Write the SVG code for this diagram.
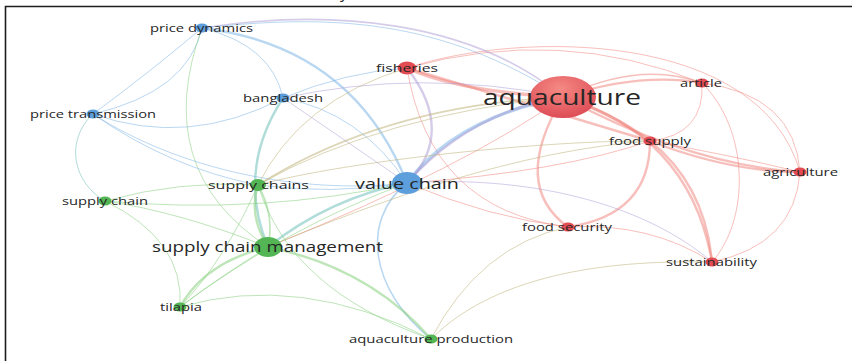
<svg xmlns="http://www.w3.org/2000/svg" width="852" height="361" viewBox="0 0 852 361">
  <defs>
    <style>
      .e { fill: none; stroke-linecap: round; }
      .r { stroke: #f08078; stroke-opacity: 0.5; }
      .b { stroke: #7fb6e6; stroke-opacity: 0.55; }
      .g { stroke: #86d07e; stroke-opacity: 0.55; }
      .o { stroke: #c0b27a; stroke-opacity: 0.55; }
      .p { stroke: #a99ad4; stroke-opacity: 0.5; }
      .t { stroke: #7cc4c0; stroke-opacity: 0.6; }
      .w1 { stroke-width: 1; }
      .w2 { stroke-width: 1.6; }
      .w3 { stroke-width: 2.4; }
      .w4 { stroke-width: 3.4; }
      .lbl { font-family: "Open Sans", "DejaVu Sans", sans-serif; fill: #262626; text-anchor: middle; }
      .s { font-size: 11.5px; }
      .red { fill: #e24c52; }
      .blue { fill: #5d9fdc; }
      .green { fill: #53b553; }
      .frame { stroke: #1e1e1e; stroke-width: 1.6; fill: none; }
    </style>
    <radialGradient id="big" cx="0.45" cy="0.3" r="0.75">
      <stop offset="0" stop-color="#f58a84"/>
      <stop offset="1" stop-color="#dc4853"/>
    </radialGradient>
  </defs>

  <rect width="852" height="361" fill="#ffffff"/>
  <!-- frame and clipped caption descender -->
  <path class="frame" d="M5.5 361 V6.5 H852"/>
  <text x="340" y="-2.5" font-family="Open Sans, sans-serif" font-size="16" fill="#222">y</text>

  <g id="connectors">
    <!-- red cluster -->
    <path class="e r w4" d="M407 68 Q460 92 563 97"/>
    <path class="e r w3" d="M563 97 Q640 72 702 83"/>
    <path class="e r w2" d="M563 97 Q640 60 702 83"/>
    <path class="e r w4" d="M563 97 Q610 112 650 141"/>
    <path class="e r w3" d="M563 97 Q690 165 800 172"/>
    <path class="e r w3" d="M563 97 Q690 135 712 262"/>
    <path class="e r w3" d="M563 97 Q510 185 568 227"/>
    <path class="e r w3" d="M650 141 Q650 215 568 227"/>
    <path class="e r w1" d="M407 68 Q560 25 702 83"/>
    <path class="e r w1" d="M407 68 C520 30 760 30 800 172"/>
    <path class="e r w1" d="M702 83 Q705 135 650 141"/>
    <path class="e r w1" d="M702 83 C750 130 750 220 712 262"/>
    <path class="e r w1" d="M702 83 Q795 95 800 172"/>
    <path class="e r w1" d="M800 172 Q795 245 712 262"/>
    <path class="e r w3" d="M650 141 Q730 172 800 172"/>
    <path class="e r w1" d="M650 141 Q730 155 800 172"/>
    <path class="e r w3" d="M650 141 Q705 185 712 262"/>
    <path class="e r w3" d="M407 68 Q540 108 650 141"/>
    <path class="e r w1" d="M407 68 Q430 210 568 227"/>
    <path class="e r w1" d="M568 227 Q650 222 712 262"/>
    <path class="e r w1" d="M407 183 Q490 218 568 227"/>
    <path class="e r w1" d="M650 141 Q560 172 407 183"/>
    <path class="e r w1" d="M563 97 Q470 165 268 247"/>
    <path class="e p w1" d="M407 183 C520 175 640 200 712 262"/>

    <!-- blue cluster -->
    <path class="e p w2" d="M202 28 C330 8 470 20 563 97"/>
    <path class="e b w1" d="M202 28 C330 14 440 18 563 97"/>
    <path class="e b w3" d="M202 28 C300 40 370 90 407 183"/>
    <path class="e b w1" d="M202 28 Q272 45 283 98"/>
    <path class="e b w1" d="M202 28 Q188 92 93 114"/>
    <path class="e b w1" d="M202 28 Q150 72 93 114"/>
    <path class="e g w1" d="M202 28 Q150 170 268 247"/>
    <path class="e b w1" d="M93 114 Q188 148 283 98"/>
    <path class="e b w1" d="M93 114 Q170 168 258 185"/>
    <path class="e b w1" d="M93 114 C180 170 300 195 407 183"/>
    <path class="e t w1" d="M93 114 C65 140 72 182 105 201"/>
    <path class="e b w1" d="M283 98 Q360 112 407 183"/>
    <path class="e p w1" d="M283 98 Q330 130 407 183"/>
    <path class="e b w1" d="M283 98 Q345 72 407 68"/>
    <path class="e p w1" d="M283 98 Q420 68 563 97"/>
    <path class="e t w3" d="M283 98 Q236 170 268 247"/>
    <path class="e b w4" d="M407 183 Q455 118 563 97"/>
    <path class="e p w3" d="M407 183 Q470 112 563 97"/>
    <path class="e p w3" d="M407 68 C440 110 440 150 407 183"/>
    <path class="e b w2" d="M431 339 C370 290 360 220 407 183"/>
    <path class="e b w1" d="M258 185 Q330 195 407 183"/>

    <!-- green cluster -->
    <path class="e o w2" d="M258 185 Q385 105 563 97"/>
    <path class="e o w1" d="M258 185 Q380 115 563 97"/>
    <path class="e o w1" d="M407 68 Q300 100 258 185"/>
    <path class="e o w1" d="M258 185 C350 160 550 140 650 141"/>
    <path class="e o w1" d="M268 247 C380 200 520 150 650 141"/>
    <path class="e g w1" d="M105 201 Q180 180 258 185"/>
    <path class="e g w1" d="M105 201 Q260 215 407 183"/>
    <path class="e g w1" d="M105 201 Q180 212 268 247"/>
    <path class="e g w1" d="M105 201 Q185 240 180 307"/>
    <path class="e g w3" d="M258 185 Q248 215 268 247"/>
    <path class="e g w2" d="M258 185 Q275 215 268 247"/>
    <path class="e g w1" d="M258 185 Q225 260 180 307"/>
    <path class="e g w3" d="M268 247 Q205 262 180 307"/>
    <path class="e g w1" d="M268 247 Q215 280 180 307"/>
    <path class="e g w3" d="M268 247 Q370 268 431 339"/>
    <path class="e t w3" d="M268 247 Q330 198 407 183"/>
    <path class="e g w1" d="M180 307 Q300 272 431 339"/>
    <path class="e g w1" d="M180 307 Q285 228 407 183"/>
    <path class="e g w1" d="M258 185 Q290 290 431 339"/>
    <path class="e o w1" d="M431 339 Q480 245 568 227"/>
    <path class="e o w1" d="M431 339 C500 270 620 260 712 262"/>
  </g>

  <g id="node-aquaculture"><ellipse cx="563" cy="97" rx="33" ry="21" fill="url(#big)"/></g>
  <g id="node-fisheries"><ellipse class="red" cx="407" cy="68" rx="9.5" ry="6.5"/></g>
  <g id="node-article"><ellipse class="red" cx="702" cy="83" rx="6.5" ry="4.5"/></g>
  <g id="node-food-supply"><ellipse class="red" cx="650" cy="141" rx="6.5" ry="4.5"/></g>
  <g id="node-agriculture"><ellipse class="red" cx="800" cy="172" rx="6.5" ry="4.5"/></g>
  <g id="node-food-security"><ellipse class="red" cx="568" cy="227" rx="6.5" ry="4.5"/></g>
  <g id="node-sustainability"><ellipse class="red" cx="712" cy="262" rx="6.5" ry="4.5"/></g>
  <g id="node-value-chain"><ellipse class="blue" cx="407" cy="183" rx="15" ry="11"/></g>
  <g id="node-price-dynamics"><ellipse class="blue" cx="202" cy="28" rx="6.5" ry="4.5"/></g>
  <g id="node-price-transmission"><ellipse class="blue" cx="93" cy="114" rx="6.5" ry="4.5"/></g>
  <g id="node-bangladesh"><ellipse class="blue" cx="283" cy="98" rx="6.5" ry="4.5"/></g>
  <g id="node-supply-chains"><ellipse class="green" cx="258" cy="185" rx="8" ry="6"/></g>
  <g id="node-supply-chain"><ellipse class="green" cx="105" cy="201" rx="6.5" ry="4.5"/></g>
  <g id="node-supply-chain-management"><ellipse class="green" cx="268" cy="247" rx="14" ry="10"/></g>
  <g id="node-tilapia"><ellipse class="green" cx="180" cy="307" rx="6.5" ry="4.5"/></g>
  <g id="node-aquaculture-production"><ellipse class="green" cx="431" cy="339" rx="6.5" ry="4.5"/></g>

  <g id="labels">
    <text class="lbl" x="562" y="105" font-size="21" textLength="158" lengthAdjust="spacingAndGlyphs">aquaculture</text>
    <text class="lbl s" x="407" y="72" textLength="62" lengthAdjust="spacingAndGlyphs">fisheries</text>
    <text class="lbl s" x="701" y="87" textLength="42" lengthAdjust="spacingAndGlyphs">article</text>
    <text class="lbl s" x="650" y="145" textLength="82" lengthAdjust="spacingAndGlyphs">food supply</text>
    <text class="lbl s" x="800.5" y="176" textLength="75" lengthAdjust="spacingAndGlyphs">agriculture</text>
    <text class="lbl s" x="567" y="231" textLength="90" lengthAdjust="spacingAndGlyphs">food security</text>
    <text class="lbl s" x="711.5" y="266" textLength="91" lengthAdjust="spacingAndGlyphs">sustainability</text>
    <text class="lbl" x="407" y="188.5" font-size="15" textLength="104" lengthAdjust="spacingAndGlyphs">value chain</text>
    <text class="lbl s" x="201.5" y="32" textLength="103" lengthAdjust="spacingAndGlyphs">price dynamics</text>
    <text class="lbl s" x="93" y="118" textLength="126" lengthAdjust="spacingAndGlyphs">price transmission</text>
    <text class="lbl s" x="283" y="102" textLength="80" lengthAdjust="spacingAndGlyphs">bangladesh</text>
    <text class="lbl s" x="258.5" y="189" textLength="101" lengthAdjust="spacingAndGlyphs">supply chains</text>
    <text class="lbl s" x="105" y="205" textLength="86" lengthAdjust="spacingAndGlyphs">supply chain</text>
    <text class="lbl" x="267.5" y="252" font-size="14.5" textLength="231" lengthAdjust="spacingAndGlyphs">supply chain management</text>
    <text class="lbl s" x="181" y="311" textLength="42" lengthAdjust="spacingAndGlyphs">tilapia</text>
    <text class="lbl s" x="431" y="343" textLength="164" lengthAdjust="spacingAndGlyphs">aquaculture production</text>
  </g>
</svg>
